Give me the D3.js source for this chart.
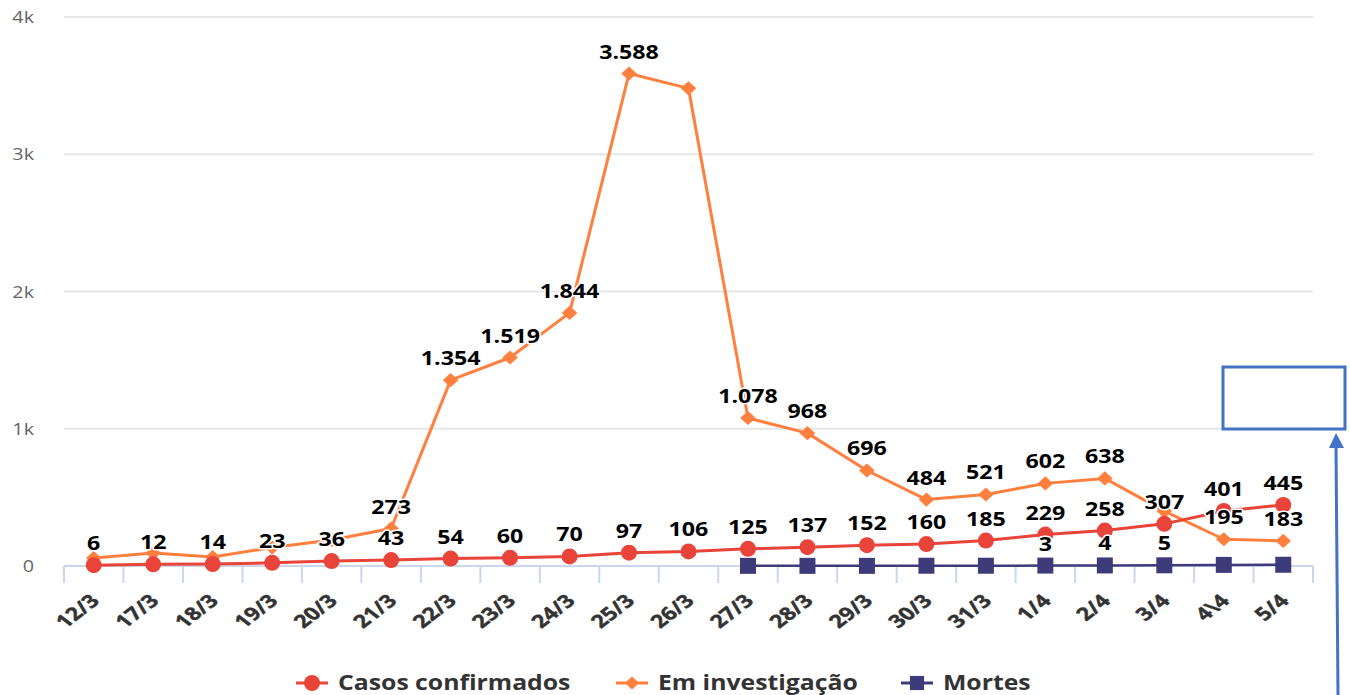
<!DOCTYPE html>
<html>
<head>
<meta charset="utf-8">
<script src="https://cdn.jsdelivr.net/npm/d3@7"></script>
<style>
  body { margin: 0; background: #fff; }
  svg { font-family: "Open Sans", "Noto Sans", sans-serif; }
</style>
</head>
<body>
<div id="chart"></div>
<script>
// categories (dates)
var dates = ["12/3", "17/3", "18/3", "19/3", "20/3", "21/3", "22/3", "23/3", "24/3", "25/3", "26/3",
             "27/3", "28/3", "29/3", "30/3", "31/3", "1/4", "2/4", "3/4", "4\\4", "5/4"];

// series values
var confirmados = [6, 12, 14, 23, 36, 43, 54, 60, 70, 97, 106, 125, 137, 152, 160, 185, 229, 258, 307, 401, 445];
var investigacao = [58, 95, 65, 135, 190, 273, 1354, 1519, 1844, 3588, 3480, 1078, 968, 696, 484, 521, 602, 638, 400, 195, 183];
var mortes = [null, null, null, null, null, null, null, null, null, null, null, 1, 1, 1, 2, 2, 3, 4, 5, 8, 9];

// which data labels are visible (the others were hidden in the original, overlapping)
var showConfirmados = confirmados.map(function () { return true; });
var showInvestigacao = [false, false, false, false, false, true, true, true, true, true, false,
                        true, true, true, true, true, true, true, false, true, true];
var showMortes = [false, false, false, false, false, false, false, false, false, false, false,
                  false, false, false, false, false, true, true, true, false, false];

var yTicks = [0, 1000, 2000, 3000, 4000];
var yTickLabels = ["0", "1k", "2k", "3k", "4k"];

var width = 1350, height = 695;
var plot = {left: 64, right: 1313, top: 17, bottom: 566};
// the source picture is stretched sideways, text too
var stretch = 1.16;

var svg = d3.select("#chart")
  .append("svg")
    .attr("width", width)
    .attr("height", height);

var x = d3.scaleBand()
  .domain(dates)
  .range([plot.left, plot.right]);
var cx = function (d) { return x(d) + x.bandwidth() / 2; };

var y = d3.scaleLinear()
  .domain([0, 4000])
  .range([plot.bottom, plot.top]);

// grid lines
svg.append("g")
  .selectAll("line")
  .data(yTicks.slice(1))
  .enter()
  .append("line")
    .attr("x1", plot.left)
    .attr("x2", plot.right)
    .attr("y1", function (d) { return y(d); })
    .attr("y2", function (d) { return y(d); })
    .style("stroke", "#e6e6e6")
    .style("stroke-width", 2);

// y labels
svg.append("g")
  .selectAll("text")
  .data(yTicks)
  .enter()
  .append("text")
    .attr("transform", function (d) { return "translate(34," + (y(d) + 6) + ") scale(" + stretch + ",1)"; })
    .attr("text-anchor", "end")
    .style("font-size", "17px")
    .style("fill", "#666")
    .text(function (d, i) { return yTickLabels[i]; });

// x axis (ticks between categories)
var xAxis = svg.append("g")
  .attr("transform", "translate(0," + plot.bottom + ")");
xAxis.append("line")
  .attr("x1", plot.left).attr("x2", plot.right)
  .attr("y1", 0).attr("y2", 0)
  .style("stroke", "#ccd6eb").style("stroke-width", 2);
xAxis.selectAll(".tick")
  .data(dates.concat(["end"]))
  .enter()
  .append("line")
    .attr("x1", function (d, i) { return plot.left + i * x.bandwidth(); })
    .attr("x2", function (d, i) { return plot.left + i * x.bandwidth(); })
    .attr("y1", 0).attr("y2", 17)
    .style("stroke", "#ccd6eb").style("stroke-width", 2);
xAxis.selectAll("text")
  .data(dates)
  .enter()
  .append("text")
    .attr("transform", function (d) { return "translate(" + (cx(d) + 7) + ",36) scale(1.3,1) rotate(-45)"; })
    .attr("text-anchor", "end")
    .style("font-size", "18px")
    .style("font-weight", "bold")
    .style("fill", "#333")
    .style("stroke", "#333")
    .style("stroke-width", 0.4)
    .text(function (d) { return d; });

// diamond marker a little wider than tall
var diamond = {
  draw: function (ctx, size) {
    var w = Math.sqrt(size) / 2 * 1.1, h = Math.sqrt(size) / 2;
    ctx.moveTo(0, -h); ctx.lineTo(w, 0); ctx.lineTo(0, h); ctx.lineTo(-w, 0); ctx.closePath();
  }
};

var series = [
  {name: "Mortes", values: mortes, show: showMortes, color: "#3d3b7a", symbol: d3.symbolSquare, size: 256, lw: 2.5},
  {name: "Em investigação", values: investigacao, show: showInvestigacao, color: "#ff7f3f", symbol: diamond, size: 200, lw: 3},
  {name: "Casos confirmados", values: confirmados, show: showConfirmados, color: "#e8443a", symbol: d3.symbolCircle, size: 201, lw: 3}
];

var line = d3.line()
  .defined(function (d) { return d.v !== null; })
  .x(function (d) { return cx(d.date); })
  .y(function (d) { return y(d.v); });

series.forEach(function (s) {
  var pts = dates.map(function (d, i) { return {date: d, v: s.values[i], show: s.show[i]}; });
  var g = svg.append("g");
  g.append("path")
    .datum(pts)
    .attr("d", line)
    .style("fill", "none")
    .style("stroke", s.color)
    .style("stroke-width", s.lw)
    .style("stroke-linejoin", "round");
  g.selectAll(".pt")
    .data(pts.filter(function (p) { return p.v !== null; }))
    .enter()
    .append("path")
      .attr("d", d3.symbol().type(s.symbol).size(s.size))
      .attr("transform", function (p) { return "translate(" + cx(p.date) + "," + y(p.v) + ")"; })
      .style("fill", s.color);
  s.pts = pts;
});

// data labels on top
var fmt = function (v) { return d3.format(",")(v).replace(/,/g, "."); };
series.forEach(function (s) {
  svg.append("g")
    .selectAll("text")
    .data(s.pts.filter(function (p) { return p.v !== null && p.show; }))
    .enter()
    .append("text")
      .attr("transform", function (p) { return "translate(" + cx(p.date) + "," + (y(p.v) - 15) + ") scale(" + stretch + ",1)"; })
      .attr("text-anchor", "middle")
      .style("font-size", "20px")
      .style("font-weight", "bold")
      .style("fill", "#000")
      .style("stroke", "#fff")
      .style("stroke-width", 3)
      .style("paint-order", "stroke")
      .style("stroke-linejoin", "round")
      .text(function (p) { return fmt(p.v); });
});

// legend
var legendItems = [
  {name: "Casos confirmados", color: "#e8443a", symbol: d3.symbolCircle, size: 201, x: 296},
  {name: "Em investigação", color: "#ff7f3f", symbol: diamond, size: 170, x: 616},
  {name: "Mortes", color: "#3d3b7a", symbol: d3.symbolSquare, size: 200, x: 901}
];
var legend = svg.append("g").attr("transform", "translate(0,683)");
legendItems.forEach(function (it) {
  legend.append("line")
    .attr("x1", it.x).attr("x2", it.x + 32)
    .attr("y1", 0).attr("y2", 0)
    .style("stroke", it.color).style("stroke-width", 3);
  legend.append("path")
    .attr("d", d3.symbol().type(it.symbol).size(it.size))
    .attr("transform", "translate(" + (it.x + 16) + ",0)")
    .style("fill", it.color);
  legend.append("text")
    .attr("transform", "translate(" + (it.x + 42) + ",7) scale(1.18,1)")
    .style("font-size", "21px")
    .style("font-weight", "bold")
    .style("fill", "#333")
    .text(it.name);
});

// annotation: blue box and arrow
svg.append("rect")
  .attr("x", 1223).attr("y", 367)
  .attr("width", 122).attr("height", 62)
  .style("fill", "none")
  .style("stroke", "#4472c4")
  .style("stroke-width", 3);
svg.append("line")
  .attr("x1", 1338).attr("y1", 695)
  .attr("x2", 1336).attr("y2", 446)
  .style("stroke", "#4472c4")
  .style("stroke-width", 3);
svg.append("path")
  .attr("d", "M1336,433 L1344,448 L1329,448 Z")
  .style("fill", "#4472c4");
</script>
</body>
</html>
